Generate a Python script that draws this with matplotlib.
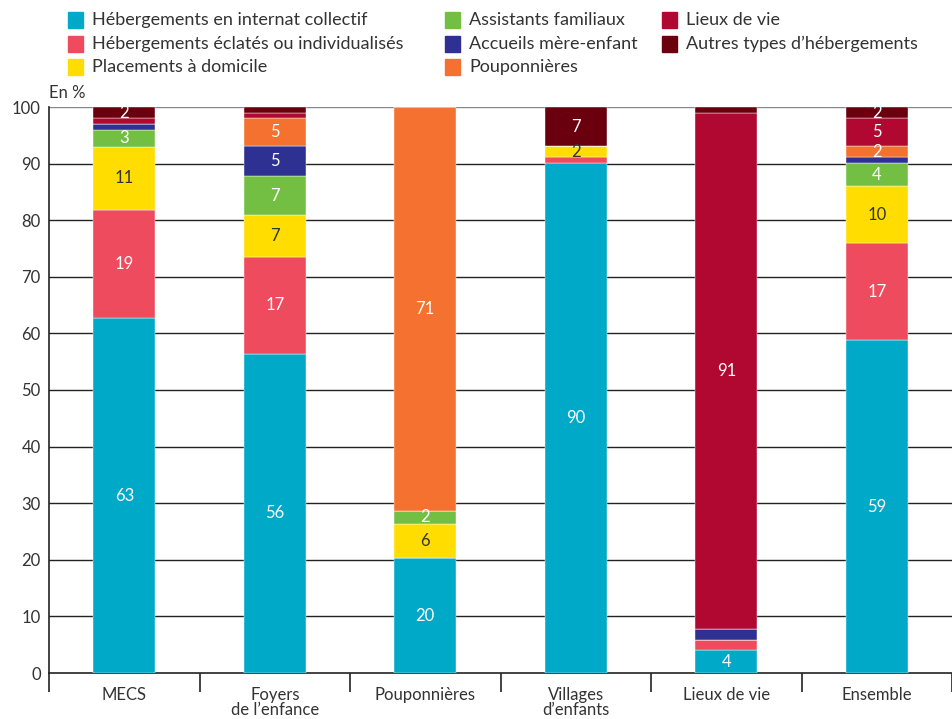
import numpy as np
import matplotlib.pyplot as plt
from matplotlib.patches import Rectangle

plt.rcParams['font.family'] = ['Lato', 'DejaVu Sans']

# Categories and series (values in %)
categories = ["MECS", "Foyers\nde l\u2019enfance", "Pouponnières", "Villages\nd\u2019enfants", "Lieux de vie", "Ensemble"]
series_names = ["Hébergements en internat collectif", "Hébergements éclatés ou individualisés",
                "Placements à domicile", "Assistants familiaux", "Accueils mère-enfant",
                "Pouponnières", "Lieux de vie", "Autres types d\u2019hébergements"]
collectif = [62.7, 56.4, 20.3, 90.1, 4.0, 58.8]
eclates = [19.1, 17.1, 0, 1.0, 1.9, 17.2]
placements = [11.2, 7.4, 6.1, 2.0, 0, 10.0]
assistants = [3.0, 6.9, 2.2, 0, 0, 4.1]
accueils = [1.0, 5.3, 0, 0, 1.9, 1.0]
pouponnieres = [0, 4.9, 71.4, 0, 0, 2.0]
lieux = [1.0, 1.0, 0, 0, 91.2, 4.9]
autres = [2.0, 1.0, 0, 6.9, 1.0, 2.0]
colors = ["#00A9C8", "#EF4B5F", "#FFDD00", "#72BF44", "#2E3192", "#F47130", "#B00830", "#6A000E"]

series = [collectif, eclates, placements, assistants, accueils, pouponnieres, lieux, autres]
text_col = "#333333"

fig = plt.figure(figsize=(9.52, 7.19), dpi=100)
ax = fig.add_axes([49 / 952, 1 - 673 / 719, 1 - 49 / 952, (673 - 107) / 719])

x = np.arange(len(categories))
bottom = np.zeros(len(categories))
for vals, col in zip(series, colors):
    vals = np.array(vals)
    ax.bar(x, vals, 0.41, bottom=bottom, color=col, edgecolor="white", linewidth=0.3, zorder=3)
    for xi, b, v in zip(x, bottom, vals):
        if v >= 1.95:
            tc = text_col if col == "#FFDD00" else "white"
            ax.text(xi, b + v / 2, f"{v:.0f}", ha="center", va="center", color=tc, fontsize=12, zorder=4)
    bottom += vals

# axes styling
ax.set_xlim(-0.5, 5.5)
ax.set_ylim(0, 100)
ax.set_yticks(np.arange(0, 101, 10))
for y in range(10, 100, 10):
    ax.axhline(y, color="#222222", lw=1, zorder=1)
ax.axhline(100, color="#888888", lw=1, zorder=1)
for s in ["top", "right"]:
    ax.spines[s].set_visible(False)
ax.spines["left"].set_color("#222222")
ax.spines["bottom"].set_color("#222222")
ax.spines["left"].set_linewidth(1.2)
ax.spines["bottom"].set_linewidth(1.2)
ax.tick_params(axis="y", length=0, labelsize=12, labelcolor=text_col, pad=6)
ax.set_xticks(x)
ax.set_xticklabels(categories, fontsize=12, color=text_col, linespacing=0.95)
ax.tick_params(axis="x", which="major", length=0, pad=10)
ax.set_xticks(np.arange(-0.5, 5.6, 1), minor=True)
ax.tick_params(axis="x", which="minor", length=14, width=1.2, color="#222222")
ax.text(0, 1.01, "En %", transform=ax.transAxes, ha="left", va="bottom", fontsize=12, color=text_col)

# legend laid out in three columns
col_x = [68, 445, 662]
row_y = [20, 44, 67]
slots = [(0, 0), (0, 1), (0, 2), (1, 0), (1, 1), (1, 2), (2, 0), (2, 1)]
for name, col, (c, r) in zip(series_names, colors, slots):
    px, py = col_x[c], row_y[r]
    fig.patches.append(Rectangle((px / 952, 1 - (py + 8) / 719), 15 / 952, 16 / 719,
                                 transform=fig.transFigure, color=col))
    fig.text((px + 24) / 952, 1 - py / 719, name, ha="left", va="center", fontsize=13, color=text_col)

fig.savefig("out.png", dpi=100)
